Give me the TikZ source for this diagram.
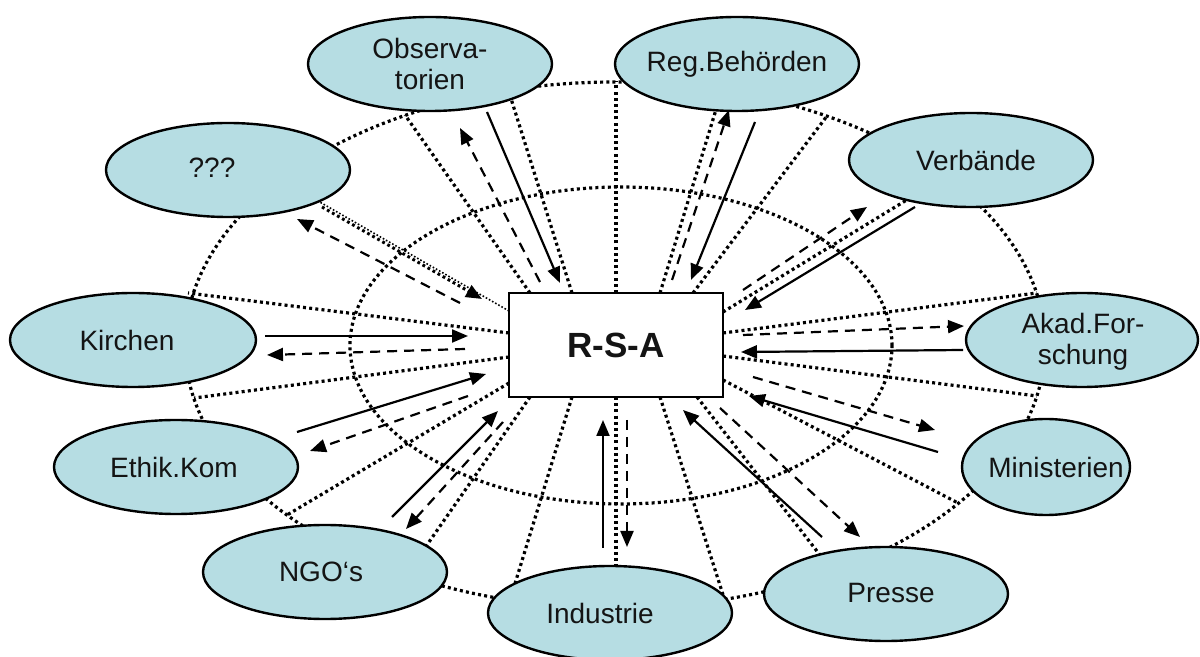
\documentclass[tikz,border=0pt]{standalone}
\usepackage{fontspec}
\setmainfont{Liberation Sans}
\usetikzlibrary{arrows.meta,shapes.geometric}
\definecolor{bubblefill}{RGB}{182,221,227}
\definecolor{ink}{RGB}{20,20,20}

\begin{document}
\begin{tikzpicture}[x=0.5pt,y=-0.5pt,
  bubble/.style={ellipse,draw=black,line width=1.2pt,fill=bubblefill,inner sep=0pt,
                 minimum width=122pt,minimum height=47pt},
  lbl/.style={text=ink,font=\fontsize{14}{15.5}\selectfont,align=center,inner sep=0pt},
  orbit/.style={line width=1.6pt,dash pattern=on 1.5pt off 1.6pt},
  spoke/.style={orbit},
  thinspoke/.style={line width=0.8pt,dash pattern=on 0.8pt off 1pt},
  flow/.style={line width=1.1pt,-{Triangle[length=8pt,width=6.5pt]}},
  feedback/.style={flow,dash pattern=on 5pt off 3.5pt},
  dotflow/.style={flow,line width=1.5pt,dash pattern=on 1.4pt off 1.5pt},
  hub/.style={draw=black,line width=1.4pt,fill=white,minimum width=107pt,minimum height=52pt,
              inner sep=0pt,font=\bfseries\fontsize{17.5}{20}\selectfont,text=ink}
]
\useasboundingbox (0,0) rectangle (1200,657);
\fill[white] (0,0) rectangle (1200,657);

% the two dotted orbits
\draw[orbit] (615,345) ellipse [x radius=215pt, y radius=131.5pt];
\draw[orbit] (621,345.5) ellipse [x radius=135.5pt, y radius=79.25pt];

% radial dotted spokes from the hub to the outer orbit
\foreach \i/\a/\b in {
  1/{530,293}/{405,115}, 2/{572,293}/{508,89}, 3/{616,293}/{616,81},
  4/{660,293}/{722,90}, 5/{693,293}/{827,116}, 6/{723,312}/{946,176},
  7/{723,333}/{1037,293}, 8/{723,356}/{1037,396}, 9/{723,380}/{958,503},
  10/{697,397}/{834,573}, 11/{660,397}/{725,601}, 12/{616,397}/{616,610},
  13/{572,397}/{510,600}, 14/{530,397}/{406,575}, 15/{509,383}/{287,515},
  16/{509,357}/{194,398}, 17/{509,333}/{188,293}} {
  \coordinate (sp\i) at (\a);
  \coordinate (sq\i) at (\b);
  \draw[spoke] (sp\i) -- (sq\i);
}
\coordinate (sp18) at (509,311);
\coordinate (sq18) at (318,201);
\draw[thinspoke] (sp18) -- (sq18);

% actors
\node[bubble] (obs) at (430,64) {};
\node[bubble] (reg) at (737,64) {};
\node[bubble] (unk) at (228,170) {};
\node[bubble,minimum width=123pt] (kir) at (133,340) {};
\node[bubble] (ver) at (971,160) {};
\node[bubble,minimum width=116pt] (akad) at (1082,340) {};
\node[bubble,minimum width=84pt,minimum height=48pt] (min) at (1046,467) {};
\node[bubble] (eth) at (176,467) {};
\node[bubble] (ngo) at (325,572) {};
\node[bubble] (ind) at (610,613) {};
\node[bubble] (pre) at (886,594) {};

\node[lbl] (obs-t) at (430,64) {Observa-\\torien};
\node[lbl] (reg-t) at (737,64) {Reg.Behörden};
\node[lbl] (unk-t) at (212,168) {???};
\node[lbl] (kir-t) at (127,340) {Kirchen};
\node[lbl] (ver-t) at (976,160) {Verbände};
\node[lbl] (akad-t) at (1083,342) {Akad.For-\\schung};
\node[lbl] (min-t) at (1056,467) {Ministerien};
\node[lbl] (eth-t) at (174,467) {Ethik.Kom};
\node[lbl] (ngo-t) at (321,572) {NGO‘s};
\node[lbl] (ind-t) at (600,613) {Industrie};
\node[lbl] (pre-t) at (891,593) {Presse};

% hub
\node[hub] (rsa) at (616,345) {R-S-A};

% flows: solid towards the hub, dashed back to the actors
\coordinate (obs-a) at (487,112);  \coordinate (obs-b) at (560,283);
\coordinate (obs-c) at (540,282);  \coordinate (obs-d) at (460,128);
\draw[flow] (obs-a) -- (obs-b);
\draw[feedback] (obs-c) -- (obs-d);

\coordinate (reg-a) at (755,122);  \coordinate (reg-b) at (691,280);
\coordinate (reg-c) at (672,280);  \coordinate (reg-d) at (729,110);
\draw[flow] (reg-a) -- (reg-b);
\draw[feedback] (reg-c) -- (reg-d);

\coordinate (unk-a) at (322,207);  \coordinate (unk-b) at (482,299);
\coordinate (unk-c) at (460,303);  \coordinate (unk-d) at (297,219);
\draw[dotflow] (unk-a) -- (unk-b);
\draw[feedback] (unk-c) -- (unk-d);

\coordinate (kir-a) at (265,336);  \coordinate (kir-b) at (468,336);
\coordinate (kir-c) at (465,349);  \coordinate (kir-d) at (267,355);
\draw[flow] (kir-a) -- (kir-b);
\draw[feedback] (kir-c) -- (kir-d);

\coordinate (eth-a) at (297,432);  \coordinate (eth-b) at (486,374);
\coordinate (eth-c) at (468,396);  \coordinate (eth-d) at (310,451);
\draw[flow] (eth-a) -- (eth-b);
\draw[feedback] (eth-c) -- (eth-d);

\coordinate (ngo-a) at (392,517);  \coordinate (ngo-b) at (498,411);
\coordinate (ngo-c) at (503,422);  \coordinate (ngo-d) at (406,529);
\draw[flow] (ngo-a) -- (ngo-b);
\draw[feedback] (ngo-c) -- (ngo-d);

\coordinate (ind-a) at (603,548);  \coordinate (ind-b) at (603,420);
\coordinate (ind-c) at (627,420);  \coordinate (ind-d) at (627,547);
\draw[flow] (ind-a) -- (ind-b);
\draw[feedback] (ind-c) -- (ind-d);

\coordinate (pre-a) at (822,537);  \coordinate (pre-b) at (683,410);
\coordinate (pre-c) at (720,408);  \coordinate (pre-d) at (860,537);
\draw[flow] (pre-a) -- (pre-b);
\draw[feedback] (pre-c) -- (pre-d);

\coordinate (min-a) at (938,452);  \coordinate (min-b) at (749,396);
\coordinate (min-c) at (753,377);  \coordinate (min-d) at (935,430);
\draw[flow] (min-a) -- (min-b);
\draw[feedback] (min-c) -- (min-d);

\coordinate (akad-a) at (963,350); \coordinate (akad-b) at (741,352);
\coordinate (akad-c) at (743,335); \coordinate (akad-d) at (964,326);
\draw[flow] (akad-a) -- (akad-b);
\draw[feedback] (akad-c) -- (akad-d);

\coordinate (ver-a) at (915,207);  \coordinate (ver-b) at (745,310);
\coordinate (ver-c) at (743,290);  \coordinate (ver-d) at (867,207);
\draw[flow] (ver-a) -- (ver-b);
\draw[feedback] (ver-c) -- (ver-d);
\end{tikzpicture}
\end{document}
